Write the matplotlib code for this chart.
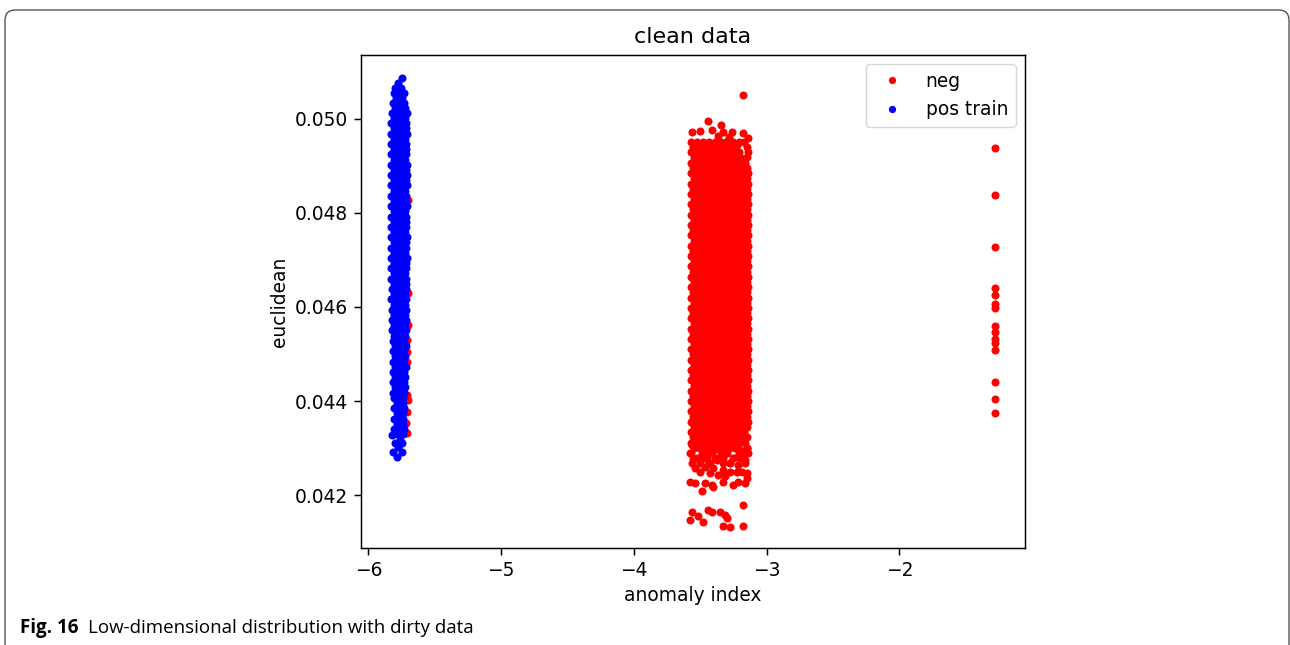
import matplotlib.pyplot as plt
from matplotlib.patches import FancyBboxPatch
from matplotlib.ticker import FormatStrFormatter

# ---- data: anomaly index vs euclidean distance ----
# dense clusters are stored row by row: "y  x1 x2 x3 ..."
neg_core_rows = """
0.04950 -3.566 -3.522 -3.481 -3.433 -3.392 -3.344 -3.303 -3.254 -3.211 -3.168
0.04939 -3.551 -3.503 -3.462 -3.414 -3.371 -3.327 -3.278 -3.236 -3.146
0.04928 -3.571 -3.526 -3.478 -3.437 -3.388 -3.346 -3.299 -3.257 -3.208 -3.141
0.04917 -3.548 -3.507 -3.459 -3.416 -3.369 -3.323 -3.282 -3.233 -3.191
0.04906 -3.569 -3.524 -3.482 -3.434 -3.391 -3.343 -3.302 -3.256 -3.212 -3.166
0.04895 -3.552 -3.504 -3.461 -3.413 -3.372 -3.326 -3.279 -3.237 -3.188 -3.145
0.04884 -3.572 -3.527 -3.479 -3.436 -3.389 -3.347 -3.298 -3.253 -3.209 -3.164 -3.140
0.04873 -3.549 -3.506 -3.458 -3.417 -3.368 -3.324 -3.281 -3.234 -3.192 -3.150
0.04862 -3.567 -3.523 -3.481 -3.432 -3.393 -3.344 -3.301 -3.258 -3.207 -3.167 -3.142
0.04851 -3.553 -3.502 -3.463 -3.414 -3.370 -3.327 -3.277 -3.236 -3.189 -3.146
0.04840 -3.570 -3.525 -3.480 -3.435 -3.390 -3.346 -3.300 -3.255 -3.210 -3.165 -3.139
0.04829 -3.550 -3.505 -3.460 -3.415 -3.371 -3.325 -3.280 -3.235 -3.190 -3.148
0.04818 -3.568 -3.524 -3.479 -3.434 -3.389 -3.344 -3.301 -3.256 -3.211 -3.166 -3.141
0.04807 -3.551 -3.506 -3.461 -3.416 -3.369 -3.326 -3.279 -3.234 -3.191 -3.147
0.04796 -3.571 -3.526 -3.481 -3.436 -3.391 -3.345 -3.299 -3.254 -3.209 -3.164 -3.140
0.04785 -3.549 -3.504 -3.459 -3.414 -3.372 -3.324 -3.281 -3.236 -3.189 -3.146
0.04774 -3.569 -3.523 -3.478 -3.433 -3.390 -3.347 -3.302 -3.257 -3.212 -3.167 -3.142
0.04763 -3.552 -3.507 -3.462 -3.417 -3.370 -3.327 -3.278 -3.233 -3.192 -3.149
0.04752 -3.570 -3.525 -3.480 -3.435 -3.388 -3.343 -3.300 -3.255 -3.210 -3.165 -3.139
0.04741 -3.550 -3.505 -3.460 -3.415 -3.371 -3.325 -3.280 -3.235 -3.190 -3.147
0.04730 -3.567 -3.524 -3.479 -3.434 -3.392 -3.346 -3.301 -3.256 -3.209 -3.166 -3.138
0.04719 -3.553 -3.506 -3.461 -3.416 -3.369 -3.326 -3.279 -3.234 -3.191 -3.145
0.04708 -3.571 -3.526 -3.481 -3.436 -3.391 -3.344 -3.299 -3.254 -3.211 -3.164 -3.141
0.04697 -3.548 -3.504 -3.459 -3.414 -3.372 -3.324 -3.281 -3.236 -3.189 -3.148
0.04686 -3.569 -3.523 -3.478 -3.433 -3.390 -3.345 -3.302 -3.257 -3.212 -3.167 -3.140
0.04675 -3.551 -3.507 -3.462 -3.417 -3.370 -3.327 -3.278 -3.233 -3.190 -3.146
0.04664 -3.570 -3.525 -3.480 -3.435 -3.389 -3.343 -3.300 -3.255 -3.210 -3.165 -3.139
0.04653 -3.550 -3.505 -3.460 -3.415 -3.371 -3.325 -3.280 -3.235 -3.191 -3.147
0.04642 -3.568 -3.524 -3.479 -3.434 -3.392 -3.346 -3.301 -3.256 -3.209 -3.166 -3.141
0.04631 -3.552 -3.506 -3.461 -3.416 -3.369 -3.326 -3.279 -3.234 -3.189 -3.145
0.04620 -3.571 -3.526 -3.481 -3.436 -3.391 -3.344 -3.299 -3.254 -3.211 -3.164 -3.138
0.04609 -3.549 -3.504 -3.459 -3.414 -3.372 -3.324 -3.281 -3.236 -3.192 -3.148
0.04598 -3.569 -3.523 -3.478 -3.433 -3.390 -3.345 -3.302 -3.257 -3.212 -3.167 -3.140
0.04587 -3.551 -3.507 -3.462 -3.417 -3.370 -3.327 -3.278 -3.233 -3.190 -3.146
0.04576 -3.570 -3.525 -3.480 -3.435 -3.389 -3.343 -3.300 -3.255 -3.210 -3.165 -3.141
0.04565 -3.550 -3.505 -3.460 -3.415 -3.371 -3.325 -3.280 -3.235 -3.191 -3.147
0.04554 -3.568 -3.524 -3.479 -3.434 -3.392 -3.346 -3.301 -3.256 -3.209 -3.166 -3.139
0.04543 -3.552 -3.506 -3.461 -3.416 -3.369 -3.326 -3.279 -3.234 -3.189 -3.145
0.04532 -3.571 -3.526 -3.481 -3.436 -3.391 -3.344 -3.299 -3.254 -3.211 -3.164 -3.140
0.04521 -3.549 -3.504 -3.459 -3.414 -3.372 -3.324 -3.281 -3.236 -3.192 -3.148
0.04510 -3.569 -3.523 -3.478 -3.433 -3.390 -3.345 -3.302 -3.257 -3.212 -3.167 -3.142
0.04499 -3.551 -3.507 -3.462 -3.417 -3.370 -3.327 -3.278 -3.233 -3.190 -3.146
0.04488 -3.570 -3.525 -3.480 -3.435 -3.389 -3.343 -3.300 -3.255 -3.210 -3.165 -3.139
0.04477 -3.550 -3.505 -3.460 -3.415 -3.371 -3.325 -3.280 -3.235 -3.191 -3.147
0.04466 -3.568 -3.524 -3.479 -3.434 -3.392 -3.346 -3.301 -3.256 -3.209 -3.166 -3.141
0.04455 -3.552 -3.506 -3.461 -3.416 -3.369 -3.326 -3.279 -3.234 -3.189 -3.145
0.04444 -3.571 -3.526 -3.481 -3.436 -3.391 -3.344 -3.299 -3.254 -3.211 -3.164 -3.140
0.04433 -3.549 -3.504 -3.459 -3.414 -3.372 -3.324 -3.281 -3.236 -3.192 -3.148
0.04422 -3.569 -3.523 -3.478 -3.433 -3.390 -3.345 -3.302 -3.257 -3.212 -3.167 -3.141
0.04411 -3.551 -3.507 -3.462 -3.417 -3.370 -3.327 -3.278 -3.233 -3.190 -3.146
0.04400 -3.570 -3.525 -3.480 -3.435 -3.389 -3.343 -3.300 -3.255 -3.210 -3.165 -3.139
0.04389 -3.550 -3.505 -3.460 -3.415 -3.371 -3.325 -3.280 -3.235 -3.191 -3.147
0.04378 -3.568 -3.524 -3.479 -3.434 -3.392 -3.346 -3.301 -3.256 -3.209 -3.166 -3.140
0.04367 -3.552 -3.506 -3.461 -3.416 -3.369 -3.326 -3.279 -3.234 -3.189 -3.145
0.04356 -3.571 -3.526 -3.481 -3.436 -3.391 -3.344 -3.299 -3.254 -3.211 -3.164 -3.141
0.04345 -3.549 -3.504 -3.459 -3.414 -3.372 -3.324 -3.281 -3.236 -3.192 -3.148
0.04334 -3.569 -3.523 -3.478 -3.433 -3.390 -3.345 -3.302 -3.257 -3.212 -3.167
0.04323 -3.551 -3.506 -3.461 -3.416 -3.369 -3.326 -3.279 -3.234 -3.189 -3.145
0.04312 -3.570 -3.525 -3.480 -3.435 -3.389 -3.343 -3.300 -3.255 -3.210 -3.165
0.04301 -3.550 -3.505 -3.415 -3.371 -3.280 -3.235 -3.147
0.04290 -3.568 -3.479 -3.434 -3.346 -3.301 -3.209 -3.166
0.04279 -3.526 -3.461 -3.391 -3.326 -3.256 -3.191
0.04268 -3.504 -3.436 -3.279 -3.164
"""

# loose negatives around the main cluster, the far column and the few
# negatives sitting under the positive cluster
neg_x = [-3.442, -3.344, -3.563, -3.503, -3.412, -3.329, -3.262, -3.179, -3.141,
         -3.224, -3.149, -3.179, -3.367, -3.284,
         -3.565, -3.578, -3.553, -3.565, -3.502, -3.402, -3.376, -3.276, -3.214,
         -3.163, -3.151, -3.188, -3.527, -3.477, -3.440, -3.339, -3.301, -3.252,
         -3.201, -3.151, -3.489, -3.452, -3.427, -3.352, -3.327, -3.226, -3.502,
         -3.465, -3.402, -3.327, -3.276, -3.226, -3.139, -3.364, -3.314, -3.427,
         -3.540,
         -3.578, -3.540, -3.465, -3.414, -3.402, -3.327, -3.252, -3.214, -3.163,
         -3.151, -3.489,
         -3.565, -3.578, -3.515, -3.477, -3.440, -3.414, -3.352, -3.314, -3.301,
         -3.327, -3.276, -3.176, -3.176,
         -1.281, -1.281, -1.281, -1.281, -1.281, -1.281, -1.281, -1.281, -1.281,
         -1.281, -1.281, -1.281, -1.281, -1.281, -1.281,
         -5.702, -5.704, -5.698, -5.706, -5.711, -5.705, -5.711, -5.704, -5.711,
         -5.712, -5.706]
neg_y = [0.04995, 0.04986, 0.04971, 0.04973, 0.04976, 0.04971, 0.04971, 0.04969, 0.04959,
         0.04944, 0.04918, 0.05050, 0.04963, 0.04961,
         0.04307, 0.04289, 0.04279, 0.04268, 0.04250, 0.04293, 0.04275, 0.04268, 0.04264,
         0.04275, 0.04247, 0.04250, 0.04303, 0.04307, 0.04300, 0.04303, 0.04296, 0.04303,
         0.04296, 0.04300, 0.04289, 0.04282, 0.04268, 0.04282, 0.04268, 0.04282, 0.04275,
         0.04261, 0.04257, 0.04254, 0.04250, 0.04250, 0.04289, 0.04243, 0.04240, 0.04247,
         0.04257,
         0.04229, 0.04227, 0.04227, 0.04222, 0.04217, 0.04229, 0.04222, 0.04229, 0.04227,
         0.04236, 0.04209,
         0.04165, 0.04148, 0.04155, 0.04144, 0.04169, 0.04165, 0.04165, 0.04158, 0.04151,
         0.04135, 0.04133, 0.04179, 0.04135,
         0.04938, 0.04837, 0.04728, 0.04641, 0.04625, 0.04606, 0.04598, 0.04559, 0.04546,
         0.04532, 0.04523, 0.04508, 0.04440, 0.04404, 0.04374,
         0.04827, 0.04630, 0.04562, 0.04530, 0.04504, 0.04483, 0.04413, 0.04402, 0.04377,
         0.04353, 0.04332]

pos_rows = """
0.05087 -5.749
0.05075 -5.776
0.05065 -5.799 -5.754
0.05054 -5.806 -5.761 -5.731
0.05044 -5.791 -5.746
0.05033 -5.814 -5.769 -5.731
0.05022 -5.799 -5.754 -5.724
0.05012 -5.822 -5.776 -5.731 -5.709
0.05001 -5.805 -5.762 -5.720
0.04990 -5.826 -5.783 -5.741 -5.712
0.04979 -5.804 -5.761 -5.719
0.04968 -5.827 -5.784 -5.740 -5.711
0.04957 -5.806 -5.763 -5.721
0.04946 -5.825 -5.782 -5.742 -5.713
0.04935 -5.805 -5.760 -5.718
0.04924 -5.826 -5.783 -5.741 -5.712
0.04913 -5.804 -5.762 -5.720
0.04902 -5.827 -5.784 -5.740 -5.710
0.04891 -5.806 -5.761 -5.719
0.04880 -5.825 -5.782 -5.742 -5.706
0.04869 -5.805 -5.763 -5.717
0.04858 -5.826 -5.783 -5.741 -5.708
0.04847 -5.804 -5.762 -5.720
0.04836 -5.827 -5.784 -5.740 -5.712
0.04825 -5.806 -5.761 -5.719
0.04814 -5.825 -5.782 -5.742 -5.711
0.04803 -5.805 -5.760 -5.721
0.04792 -5.826 -5.783 -5.741 -5.713
0.04781 -5.804 -5.762 -5.718
0.04770 -5.827 -5.784 -5.740 -5.712
0.04759 -5.806 -5.761 -5.720
0.04748 -5.825 -5.782 -5.742 -5.710
0.04737 -5.805 -5.763 -5.719
0.04726 -5.826 -5.783 -5.741 -5.712
0.04715 -5.804 -5.762 -5.721
0.04704 -5.827 -5.784 -5.740 -5.711
0.04693 -5.806 -5.761 -5.718
0.04682 -5.825 -5.782 -5.742 -5.713
0.04671 -5.805 -5.760 -5.720
0.04660 -5.826 -5.783 -5.741 -5.712
0.04649 -5.804 -5.762 -5.719
0.04638 -5.824 -5.784 -5.740 -5.714
0.04627 -5.806 -5.761 -5.721
0.04616 -5.825 -5.782 -5.742 -5.715
0.04605 -5.805 -5.763 -5.720
0.04594 -5.823 -5.783 -5.741 -5.716
0.04583 -5.804 -5.762 -5.722
0.04572 -5.822 -5.784 -5.740 -5.718
0.04561 -5.806 -5.761 -5.723
0.04550 -5.824 -5.782 -5.742 -5.719
0.04539 -5.805 -5.760 -5.724
0.04528 -5.816 -5.773 -5.730
0.04517 -5.796 -5.752 -5.719
0.04506 -5.817 -5.772 -5.729
0.04495 -5.795 -5.751 -5.720
0.04484 -5.815 -5.774 -5.731
0.04473 -5.797 -5.753 -5.718
0.04462 -5.816 -5.771 -5.728
0.04451 -5.796 -5.752 -5.721
0.04440 -5.814 -5.773 -5.730
0.04429 -5.795 -5.751 -5.722
0.04418 -5.815 -5.772 -5.729
0.04407 -5.806 -5.763 -5.735
0.04396 -5.787 -5.742
0.04385 -5.804 -5.761 -5.733
0.04374 -5.785 -5.741
0.04363 -5.807 -5.762 -5.736
0.04352 -5.786 -5.740
0.04341 -5.805 -5.760 -5.734
0.04330 -5.784 -5.741
0.04328 -5.822
0.04317 -5.761
0.04310 -5.798 -5.749
0.04303 -5.776
0.04292 -5.814 -5.746
0.04281 -5.784
"""


def parse_rows(block):
    xs, ys = [], []
    for line in block.strip().splitlines():
        vals = [float(v) for v in line.split()]
        for x in vals[1:]:
            xs.append(x)
            ys.append(vals[0])
    return xs, ys


core_x, core_y = parse_rows(neg_core_rows)
neg_x = core_x + neg_x
neg_y = core_y + neg_y
pos_x, pos_y = parse_rows(pos_rows)

xticks = [-6, -5, -4, -3, -2]
yticks = [0.042, 0.044, 0.046, 0.048, 0.050]

plt.rcParams.update({
    "font.size": 13.4,
    "axes.linewidth": 1.07,
    "xtick.major.size": 4.7,
    "ytick.major.size": 4.7,
    "xtick.major.width": 1.07,
    "ytick.major.width": 1.07,
    "xtick.major.pad": 4.7,
    "ytick.major.pad": 4.7,
})

fig = plt.figure(figsize=(12.9, 6.45), dpi=100)
ax = fig.add_axes([0.2798, 0.1504, 0.5147, 0.7643])

ax.plot(neg_x, neg_y, "o", color="red", markersize=5.8, markeredgewidth=0,
        linestyle="none", label="neg", snap=False)
ax.plot(pos_x, pos_y, "o", color="blue", markersize=5.8, markeredgewidth=0,
        linestyle="none", label="pos train", snap=False)

ax.set_xlim(-6.055, -1.055)
ax.set_ylim(0.04088, 0.05135)
ax.set_xticks(xticks)
ax.set_yticks(yticks)
ax.yaxis.set_major_formatter(FormatStrFormatter("%.3f"))

ax.set_title("clean data", fontsize=16, pad=9)
ax.set_xlabel("anomaly index")
ax.set_ylabel("euclidean")
ax.legend(loc="upper right", markerscale=0.9)

# rounded frame around the whole figure (inch units keep the corners round)
frame = FancyBboxPatch((0.05, -0.2), 12.84, 6.55,
                       boxstyle="round,pad=0,rounding_size=0.1",
                       transform=fig.dpi_scale_trans, fill=False,
                       edgecolor="#444444", linewidth=0.9, clip_on=False)
fig.patches.append(frame)

# caption: bold label followed by regular text
cap_y = 1 - 628 / 645
t1 = fig.text(20 / 1290, cap_y, "Fig. 16", fontsize=13.5, fontweight="bold",
              family="Open Sans", va="center")
fig.canvas.draw()
bb = t1.get_window_extent()
fig.text((bb.x1 + 10) / 1290, cap_y, "Low-dimensional distribution with dirty data",
         fontsize=13.5, family="Open Sans", va="center")

fig.savefig("out.png", dpi=100)
